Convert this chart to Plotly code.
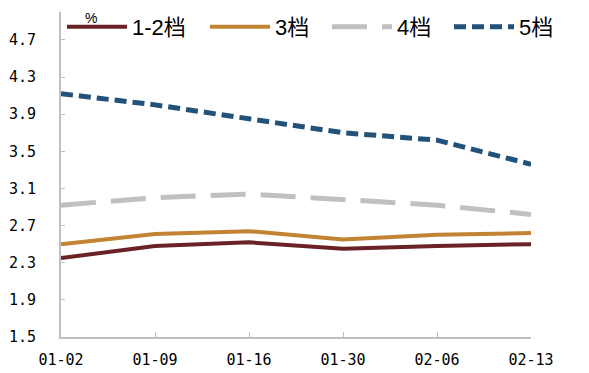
import plotly.graph_objects as go

dates = ["01-02", "01-09", "01-16", "01-30", "02-06", "02-13"]
s12 = [2.35, 2.48, 2.52, 2.45, 2.48, 2.50]
s3 = [2.50, 2.61, 2.64, 2.55, 2.60, 2.62]
s4 = [2.92, 3.00, 3.04, 2.98, 2.92, 2.82]
s5 = [4.12, 4.00, 3.85, 3.70, 3.62, 3.36]
yticks = [1.5, 1.9, 2.3, 2.7, 3.1, 3.5, 3.9, 4.3, 4.7]

series = [
    ("1-2档", s12, "#6A2226", "solid", 4),
    ("3档", s3, "#C28432", "solid", 4),
    ("4档", s4, "#C0C0C0", "35px,15px", 5),
    ("5档", s5, "#22527A", "12px,6px", 5),
]
legend_px = [62, 205, 327, 449]

L, R, T, B = 61, 58, 12, 36
W, H = 589, 373
PW, PH = W - L - R, H - T - B

xs = list(range(len(dates)))
fig = go.Figure()
layout_legends = {}
for i, (name, vals, color, dash, w) in enumerate(series):
    lg = "legend" if i == 0 else f"legend{i + 1}"
    fig.add_trace(go.Scatter(x=xs, y=vals, name=name, mode="lines", legend=lg,
                             line=dict(color=color, width=w, dash=dash)))
    layout_legends[lg] = dict(orientation="h", xref="container", yref="container",
                              x=legend_px[i] / W, y=1 - 27 / H,
                              xanchor="left", yanchor="middle", itemwidth=60,
                              font=dict(family="Liberation Sans, Noto Sans CJK SC", size=22,
                                        color="#000000"),
                              bgcolor="rgba(0,0,0,0)")

fig.update_layout(
    width=W, height=H,
    margin=dict(l=L, r=R, t=T, b=B, autoexpand=False),
    paper_bgcolor="white", plot_bgcolor="white",
    showlegend=True,
    annotations=[dict(text="%", x=(91 - L) / PW, y=1 - (18 - T) / PH,
                      xref="paper", yref="paper", showarrow=False,
                      xanchor="center", yanchor="middle",
                      font=dict(family="Liberation Sans", size=14, color="#000000"))],
    **layout_legends,
)
fig.update_xaxes(range=[0, 5], tickvals=xs, ticktext=dates, showgrid=False, zeroline=False,
                 showline=True, linecolor="#BFBFBF", linewidth=2, automargin=False,
                 ticks="inside", ticklen=5, tickcolor="#BFBFBF", tickwidth=1,
                 tickfont=dict(family="DejaVu Sans Mono", size=15, color="#000000"),
                 ticklabelstandoff=8)
fig.update_yaxes(range=[1.5, 5.0], tickvals=yticks, ticktext=[f"{v:.1f}" for v in yticks],
                 showgrid=False, zeroline=False, automargin=False,
                 showline=True, linecolor="#BFBFBF", linewidth=2,
                 ticks="inside", ticklen=4, tickcolor="#BFBFBF", tickwidth=1,
                 tickfont=dict(family="DejaVu Sans Mono", size=15, color="#000000"),
                 ticklabelstandoff=20)

fig.write_html("out.html", config={"displayModeBar": False},
               post_script="document.body.style.margin='0px';")
